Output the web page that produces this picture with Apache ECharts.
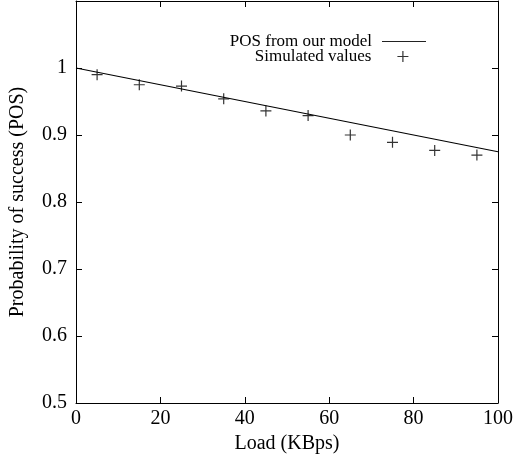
<!DOCTYPE html>
<html>
<head>
<meta charset="utf-8">
<script src="https://cdn.jsdelivr.net/npm/echarts@6/dist/echarts.min.js"></script>
<style>
html,body{margin:0;padding:0;background:#fff;}
#chart{width:516px;height:459px;}
</style>
</head>
<body>
<div id="chart"></div>
<script>
// Model curve (POS from our model)
var modelLoad = [0, 100];
var modelPOS = [1.0, 0.875];
// Simulated values
var simLoad = [5, 15, 25, 35, 45, 55, 65, 75, 85, 95];
var simPOS = [0.990, 0.975, 0.973, 0.954, 0.936, 0.929, 0.900, 0.889, 0.877, 0.870];
// Axis ticks
var xTicks = [0, 20, 40, 60, 80, 100];
var yTicks = [0.5, 0.6, 0.7, 0.8, 0.9, 1, 1.1];

var FONT = '"Liberation Serif", "DejaVu Serif", serif';
var plusPath = 'path://M-1,0L1,0M0,-1L0,1';

var chart = echarts.init(document.getElementById('chart'), null, {renderer: 'canvas'});

function zip(a, b) { return a.map(function (v, i) { return [v, b[i]]; }); }

var baseLine = {show: true, onZero: false, lineStyle: {color: '#000', width: 1}};
var baseTick = {show: true, inside: true, length: 6, lineStyle: {color: '#000', width: 1}};

var option = {
  animation: false,
  backgroundColor: '#fff',
  grid: {left: 76, right: 18, top: 1, bottom: 56, containLabel: false},
  xAxis: [{
    type: 'value', min: xTicks[0], max: xTicks[xTicks.length - 1], interval: 20,
    position: 'bottom',
    axisLine: baseLine, axisTick: baseTick, splitLine: {show: false},
    axisLabel: {margin: 6, color: '#000', fontFamily: FONT, fontSize: 20},
    name: 'Load (KBps)', nameLocation: 'middle', nameGap: 28,
    nameTextStyle: {color: '#000', fontFamily: FONT, fontSize: 20}
  }, {
    type: 'value', min: xTicks[0], max: xTicks[xTicks.length - 1], interval: 20,
    position: 'top',
    axisLine: baseLine, axisTick: baseTick, splitLine: {show: false},
    axisLabel: {show: false}
  }],
  yAxis: [{
    type: 'value', min: yTicks[0], max: yTicks[yTicks.length - 1], interval: 0.1,
    position: 'left',
    axisLine: baseLine, axisTick: baseTick, splitLine: {show: false},
    axisLabel: {
      margin: 9, color: '#000', fontFamily: FONT, fontSize: 20,
      formatter: function (v) { return v > 1.05 ? '' : String(+v.toFixed(1)); }
    },
    name: 'Probability of success (POS)', nameLocation: 'middle', nameGap: 48,
    nameTextStyle: {color: '#000', fontFamily: FONT, fontSize: 20}
  }, {
    type: 'value', min: yTicks[0], max: yTicks[yTicks.length - 1], interval: 0.1,
    position: 'right',
    axisLine: baseLine, axisTick: baseTick, splitLine: {show: false},
    axisLabel: {show: false}
  }],
  legend: [{
    data: [{name: 'POS from our model', icon: 'rect', itemStyle: {color: '#222', borderWidth: 0}}],
    right: 90, top: 33, padding: 0, align: 'right',
    itemWidth: 44, itemHeight: 1.2,
    textStyle: {color: '#000', fontFamily: FONT, fontSize: 17, padding: [0, 5, 0, 0]},
    selectedMode: false
  }, {
    data: [{name: 'Simulated values', icon: plusPath, itemStyle: {color: 'transparent', borderColor: '#000', borderWidth: 1.2}}],
    right: 107, top: 48, padding: 0, align: 'right',
    itemWidth: 11, itemHeight: 11,
    textStyle: {color: '#000', fontFamily: FONT, fontSize: 17, padding: [0, 21, 0, 0]},
    selectedMode: false
  }],
  series: [{
    name: 'POS from our model', type: 'line',
    xAxisIndex: 0, yAxisIndex: 0,
    data: zip(modelLoad, modelPOS),
    symbol: 'none', showSymbol: false,
    lineStyle: {color: '#000', width: 1.2},
    itemStyle: {color: '#000'}
  }, {
    name: 'Simulated values', type: 'scatter',
    xAxisIndex: 0, yAxisIndex: 0,
    data: zip(simLoad, simPOS),
    symbol: plusPath, symbolSize: 11,
    itemStyle: {color: 'transparent', borderColor: '#000', borderWidth: 1.2}
  }]
};
chart.setOption(option);
</script>
</body>
</html>
